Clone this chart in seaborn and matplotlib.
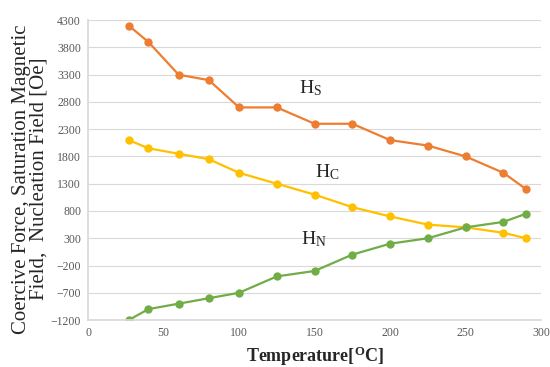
import matplotlib
matplotlib.use("Agg")
import matplotlib.pyplot as plt
import numpy as np
import pandas as pd
import seaborn as sns

temperature = [27, 40, 60, 80, 100, 125, 150, 175, 200, 225, 250, 275, 290]
hs_values = [4200, 3900, 3300, 3200, 2700, 2700, 2400, 2400, 2100, 2000, 1800, 1500, 1200]
hc_values = [2100, 1950, 1850, 1750, 1500, 1300, 1100, 870, 700, 550, 500, 400, 300]
hn_values = [-1200, -1000, -900, -800, -700, -400, -300, 0, 200, 300, 500, 600, 750]

series_names = ["Hs", "Hc", "Hn"]
series_colors = ["#ED7D31", "#FFC000", "#70AD47"]
y_ticks = list(range(-1200, 4301, 500))
x_ticks = [0, 50, 100, 150, 200, 250, 300]

df = pd.DataFrame({
    "T": temperature * 3,
    "value": hs_values + hc_values + hn_values,
    "series": [s for s in series_names for _ in temperature],
})

sns.set_theme(style="white")
plt.rcParams["font.family"] = ["Liberation Serif", "DejaVu Serif"]

fig = plt.figure(figsize=(5.5, 3.67), dpi=100)
ax = fig.add_axes([0.16, 0.128, 0.824, 0.817])

sns.lineplot(data=df, x="T", y="value", hue="series", palette=series_colors,
             hue_order=series_names, marker="o", markersize=6, markeredgewidth=0,
             linewidth=1.6, legend=False, ax=ax)

ax.set_xlim(0, 300)
ax.set_ylim(-1200, 4300)
ax.set_xticks(x_ticks)
ax.set_yticks(y_ticks)
ax.tick_params(axis="both", length=0, labelsize=8.5, colors="#595959", pad=5)
ax.yaxis.grid(True, color="#d9d9d9", linewidth=0.8)
ax.xaxis.grid(False)
for side in ["top", "right"]:
    ax.spines[side].set_visible(False)
ax.spines["left"].set_color("#d9d9d9")
ax.spines["bottom"].set_color("#d9d9d9")

ax.set_xlabel("Temperature[$\\mathregular{^{O}}$C]", fontsize=13, fontweight="bold", labelpad=4)
ax.set_ylabel("Coercive Force, Saturation Magnetic\nField,  Nucleation Field [Oe]",
              fontsize=15, linespacing=0.9)
ax.yaxis.set_label_coords(-0.088, 0.47)

ax.text(140, 2960, "H$\\mathregular{_S}$", fontsize=14)
ax.text(150, 1420, "H$\\mathregular{_C}$", fontsize=14)
ax.text(141, 180, "H$\\mathregular{_N}$", fontsize=14)

fig.savefig("out.png", dpi=100)
